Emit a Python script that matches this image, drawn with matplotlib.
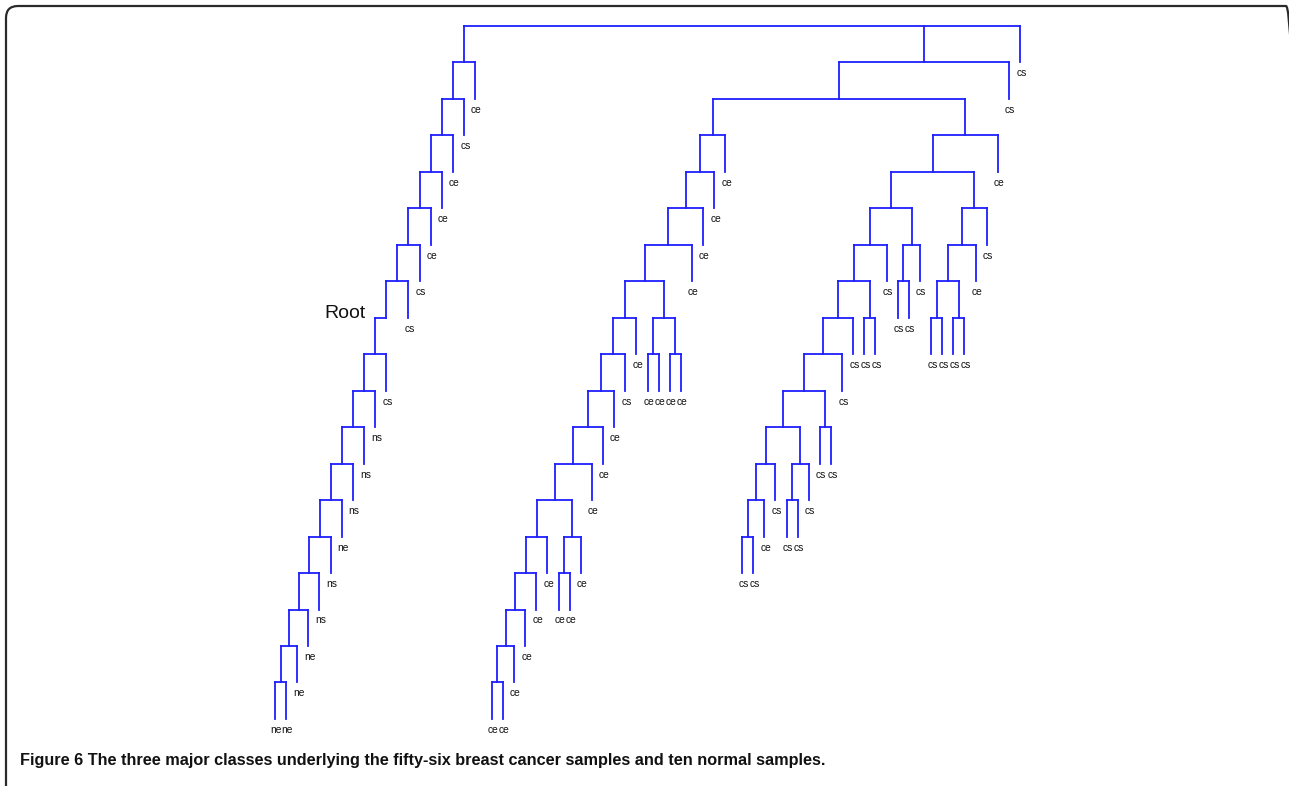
import matplotlib
matplotlib.use("Agg")
import matplotlib.pyplot as plt
from matplotlib.collections import LineCollection
from matplotlib.patches import FancyBboxPatch
from matplotlib.transforms import IdentityTransform

# Topology of the three major classes (Newick, leaves left to right)
class_1 = ("((((((((((((((((((ne,ne),ne),ne),ns),ns),ne),ns),ns),ns),cs),Root),"
           "cs),cs),ce),ce),ce),cs),ce)")
class_2 = ("((((((((((((((((ce,ce),ce),ce),ce),ce),((ce,ce),ce)),ce),ce),ce),cs),ce),"
           "((ce,ce),(ce,ce))),ce),ce),ce),ce)")
class_3 = ("((((((((((((cs,cs),ce),cs),((cs,cs),cs)),(cs,cs)),cs),cs),(cs,cs)),cs),"
           "((cs,cs),cs)),((((cs,cs),(cs,cs)),ce),cs)),ce)")
outliers = ["cs", "cs"]
root_marker = "Root"
caption = ("Figure 6 The three major classes underlying the fifty-six breast cancer "
           "samples and ten normal samples.")

LINE_COLOR = "#1f1fff"
LABEL_FONT = ["Liberation Sans", "DejaVu Sans"]


class Node:
    def __init__(self, children=None, label=None):
        self.children = children or []
        self.label = label
        self.gap = 0.0
        self.x = 0.0
        self.depth = 0


def parse_newick(text):
    pos = 0

    def read():
        nonlocal pos
        if text[pos] == "(":
            pos += 1
            kids = [read()]
            while text[pos] == ",":
                pos += 1
                kids.append(read())
            pos += 1  # closing bracket
            return Node(kids)
        start = pos
        while pos < len(text) and text[pos] not in ",()":
            pos += 1
        return Node(label=text[start:pos])

    return read()


c1, c2, c3 = (parse_newick(s) for s in (class_1, class_2, class_3))
c2.gap = 0.5
c3.gap = 0.5
tree = Node([c1, Node([Node([c2, c3]), Node(label=outliers[0])]),
             Node(label=outliers[1])])

slot = [0.0]


def layout(node, depth):
    node.depth = depth
    slot[0] += node.gap
    if not node.children:
        node.x = slot[0]
        slot[0] += 1
        return
    for child in node.children:
        layout(child, depth + 1)
    xs = [c.x for c in node.children]
    node.x = (min(xs) + max(xs)) / 2


layout(tree, 0)

fig = plt.figure(figsize=(12.89, 7.86), dpi=100)
ax = fig.add_axes([0, 0, 1, 1])
ax.set_xlim(-275 / 11.12, (1289 - 275) / 11.12)
ax.set_ylim((786 - 26) / 36.47, -26 / 36.47)
ax.axis("off")

segments = []
labels = []


def collect(node, parent=None):
    if not node.children:
        if node.label == root_marker:
            ax.text(parent.x - 1.85, parent.depth - 0.12, node.label,
                    ha="right", va="center", fontsize=14,
                    family=LABEL_FONT, color="#111111")
        else:
            labels.append((node.x, node.depth, node.label))
        return
    visible = [c for c in node.children if c.label != root_marker]
    xs = [c.x for c in visible] + [node.x]
    segments.append([(min(xs), node.depth), (max(xs), node.depth)])
    for child in visible:
        segments.append([(child.x, node.depth), (child.x, node.depth + 1)])
    for child in node.children:
        collect(child, node)


collect(tree)

ax.add_collection(LineCollection(segments, colors=LINE_COLOR, linewidths=1.3,
                                 capstyle="projecting"))

for x, depth, text in labels:
    ax.text(x + 0.12, depth + 0.3, text, ha="center", va="center",
            fontsize=7.4, family=LABEL_FONT, color="#111111")

# Rounded frame; its right and bottom sides run past the canvas edge
frame = FancyBboxPatch((6, -40), 1292, 780 + 40,
                       boxstyle="round,pad=0,rounding_size=12",
                       transform=IdentityTransform(), fill=False,
                       edgecolor="#2a2a2a", linewidth=1.6)
fig.patches.append(frame)

fig.text(20 / 1289, 1 - 765 / 786, caption, ha="left", va="baseline",
         fontsize=11.7, fontweight="bold", family=LABEL_FONT, color="#111111")

fig.savefig("out.png", dpi=100)
